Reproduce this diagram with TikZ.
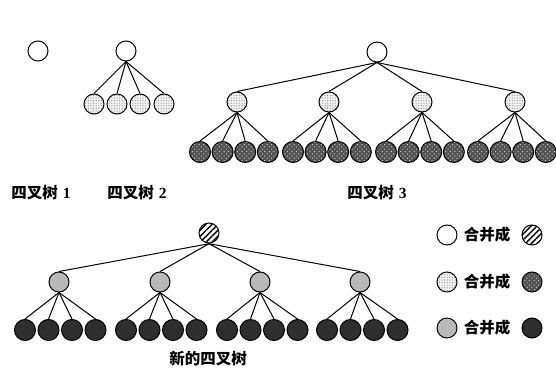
\documentclass[tikz,border=0pt]{standalone}
\usepackage{fontspec}
\setmainfont{Liberation Serif}
\newfontfamily\cjk{Noto Sans CJK SC}
\usetikzlibrary{patterns,patterns.meta}
\tikzset{
  nd/.style={circle, draw, line width=1pt, minimum size=20pt, inner sep=0pt},
  lf/.style={minimum size=21pt},
  wt/.style={nd, fill=white},
  ltd/.style={nd, preaction={fill=gray!12}, pattern={Dots[distance=2.6pt, radius=0.55pt]}, pattern color=gray!95},
  dkd/.style={nd, preaction={fill=black!68}, pattern={Dots[distance=3.2pt, radius=0.7pt, angle=45]}, pattern color=gray!35},
  mg/.style={nd, fill=gray!55},
  blk/.style={nd, fill=black!82},
  hat/.style={nd, preaction={fill=white}, pattern={Lines[angle=45, distance=4.2pt, line width=1.4pt]}},
  edge/.style={line width=1pt},
  lbl/.style={font=\fontsize{15.5pt}{17pt}\selectfont\cjk\bfseries, inner sep=0pt}
}
\begin{document}
\begin{tikzpicture}[x=1pt, y=-1pt]
\useasboundingbox (0,0) rectangle (556,371);
% Tree 1
\node[wt] (t1) at (38,51) {};
\node[lbl] (l1) at (41,193) {四叉树\hspace{5pt}{\rmfamily 1}};
% Tree 2
\node[wt] (t2) at (126,51) {};
\foreach \i/\x in {1/94,2/117,3/140,4/164} {
  \node[ltd] (t2c\i) at (\x,104) {};
  \draw[edge] (t2.south) -- (t2c\i.north);
}
\node[lbl] (l2) at (137,193) {四叉树\hspace{5pt}{\rmfamily 2}};
% Tree 3
\node[wt] (t3) at (377,52) {};
\foreach \i/\mx/\sx in {1/237/200,2/329/293,3/422/386,4/515/478} {
  \node[ltd] (t3m\i) at (\mx,102) {};
  \draw[edge] (t3.south) -- (t3m\i.north);
  \foreach \j in {0,1,2,3} {
    \node[dkd,lf] (t3l\i\j) at ({\sx+22.6*\j},152) {};
    \draw[edge] (t3m\i.south) -- (t3l\i\j.north);
  }
}
\node[lbl] (l3) at (377,193) {四叉树\hspace{5pt}{\rmfamily 3}};
% New tree
\node[hat] (nr) at (209,233) {};
\foreach \i/\mx/\sx in {1/59/25,2/160/126,3/260/227,4/360/327} {
  \node[mg] (nm\i) at (\mx,282) {};
  \draw[edge] (nr.south) -- (nm\i.north);
  \foreach \j in {0,1,2,3} {
    \node[blk,lf] (nl\i\j) at ({\sx+23.5*\j},330) {};
    \draw[edge] (nm\i.south) -- (nl\i\j.north);
  }
}
\node[lbl] (l4) at (208,359) {新的四叉树};
% Legend
\node[wt] (a1) at (447,235) {};
\node[lbl] (b1) at (487,235) {合并成};
\node[hat] (c1) at (532,235) {};
\node[ltd] (a2) at (447,282) {};
\node[lbl] (b2) at (487,282) {合并成};
\node[dkd] (c2) at (532,282) {};
\node[mg] (a3) at (447,328) {};
\node[lbl] (b3) at (487,328) {合并成};
\node[blk] (c3) at (532,328) {};
\end{tikzpicture}
\end{document}
